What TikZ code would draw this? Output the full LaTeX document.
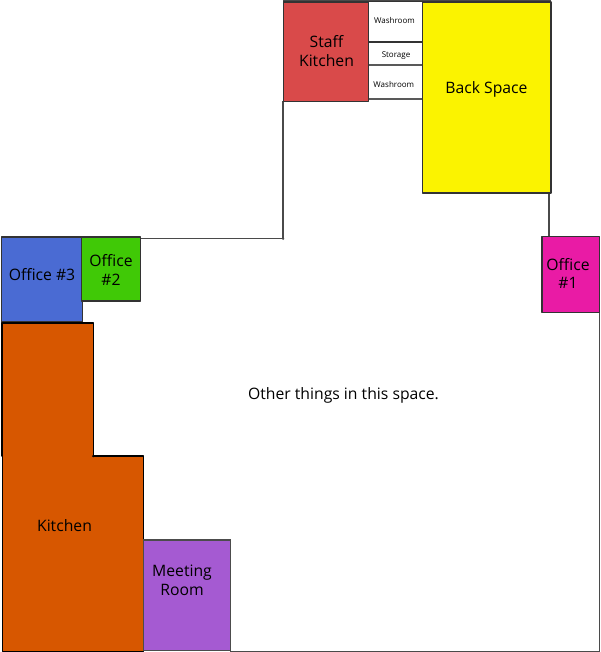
\documentclass[tikz,border=0pt]{standalone}
\usepackage{fontspec}
\setmainfont{Open Sans}
\definecolor{cStaff}{HTML}{D94A4A}
\definecolor{cBack}{HTML}{FBF300}
\definecolor{cOne}{HTML}{E91BA5}
\definecolor{cTwo}{HTML}{40C906}
\definecolor{cThree}{HTML}{4A6BD3}
\definecolor{cKitchen}{HTML}{D75700}
\definecolor{cMeet}{HTML}{A55AD2}
\definecolor{cWall}{HTML}{4A4A4A}
\tikzset{
  wall/.style={draw=cWall,line width=0.9pt},
  room/.style={draw=black!80,line width=0.8pt,line join=round},
  lab/.style={font=\fontsize{11.8}{14}\selectfont,align=center,text=black,inner sep=0pt},
  small/.style={font=\fontsize{6}{8}\selectfont,align=center,text=black,inner sep=0pt}
}
\begin{document}
\begin{tikzpicture}[x=0.75pt,y=-0.75pt]
\useasboundingbox (0,0) rectangle (600,652);
\fill[white] (0,0) rectangle (600,652);
% outer walls
\coordinate (w1) at (283,101); \coordinate (w2) at (283,238.7); \coordinate (w3) at (140,238.7);
\coordinate (w4) at (549,193); \coordinate (w5) at (549,237);
\coordinate (w6) at (599.5,312); \coordinate (w7) at (599.5,651.3); \coordinate (w8) at (230,651.3);
\coordinate (w9) at (283,1); \coordinate (w10) at (551,1);
\draw[wall] (w1) -- (w2) -- (w3);
\fill[cWall] (w2) circle (1.3);
\draw[wall] (w4) -- (w5);
\draw[wall] (w6) -- (w7) -- (w8);
\draw[wall] (w9) -- (w10);
% small rooms
\draw[room,fill=white] (368.5,1.5) rectangle (422.5,42);
\draw[room,fill=white] (368.5,42) rectangle (422.5,64.5);
\draw[room,fill=white,draw=black!65] (368.5,65) rectangle (422.5,99);
\draw[black!80,line width=1.6pt] (368.5,42) -- (422.5,42);
\draw[room,fill=cStaff] (283.5,2) rectangle (368.5,101.5);
\draw[room,fill=cBack] (422.5,2) rectangle (551,193);
\draw[room,fill=cOne] (542,236.5) rectangle (599.7,312.5);
\draw[room,fill=cThree] (1.2,237) rectangle (82.5,322);
\draw[room,fill=cTwo] (81.7,237) rectangle (140.5,301);
\draw[black,line width=1.2pt,fill=cKitchen,line join=round]
  (2,323) -- (93.3,323) -- (93.3,456) -- (143.3,456) -- (143.3,651.3) -- (2.5,651.3) -- (2.5,456) -- (2,456) -- cycle;
\fill[black] (93.3,456) circle (1.3);
\draw[draw=black!70,line width=0.9pt,fill=cMeet] (143.8,540) rectangle (230.3,650.8);
% labels
\node[lab] (staff) at (326.5,51) {Staff\\Kitchen};
\node[small] (wash1) at (394.5,20.3) {Washroom};
\node[small] (stor) at (396,56) {Storage};
\node[small] (wash2) at (393.8,84.3) {Washroom};
\node[lab] (back) at (486.5,89.3) {Back Space};
\node[lab] (o1) at (568,273.5) {Office\\\#1};
\node[lab] (o2) at (111,270) {Office\\\#2};
\node[lab] (o3) at (42,275) {Office \#3};
\node[lab] (other) at (343.5,395.8) {Other things in this space.};
\node[lab] (kit) at (64.5,525.5) {Kitchen};
\node[lab] (meet) at (182,580) {Meeting\\Room};
\end{tikzpicture}
\end{document}
